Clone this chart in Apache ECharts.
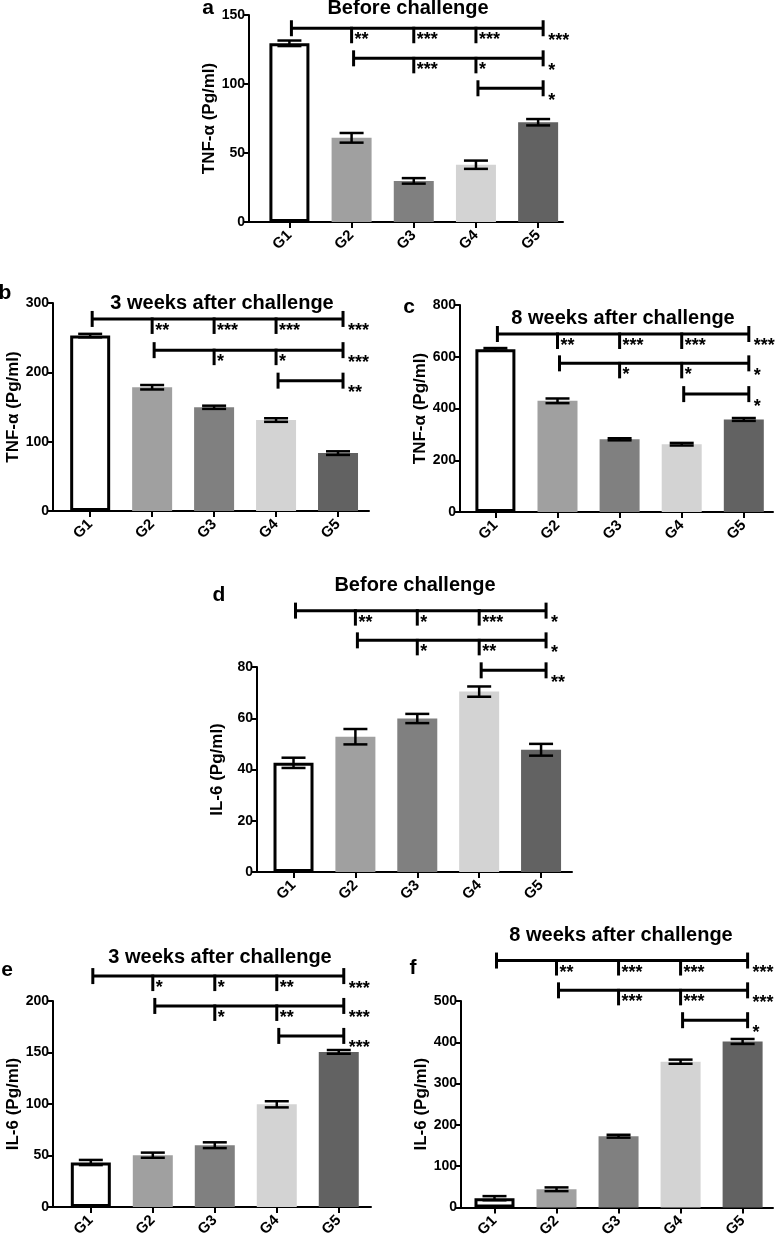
<!DOCTYPE html>
<html><head><meta charset="utf-8">
<script src="https://cdn.jsdelivr.net/npm/echarts@6/dist/echarts.min.js"></script>
<style>html,body{margin:0;padding:0;background:#fff}#c{width:775px;height:1240px}</style>
</head><body><div id="c"></div>
<script>
const categories = ['G1', 'G2', 'G3', 'G4', 'G5'];

// a: TNF-α, before challenge
const tnfBeforeMean = [129.5, 61, 29.8, 41.5, 72.3];
const tnfBeforeErr = [2, 3.5, 2, 3, 2.3];
const tnfBeforeBrackets = [[0, 140.4, ['**', '***', '***', '***']], [1, 118.6, ['***', '*', '*']], [3, 96.9, ['*']]];
const tnfBeforeTicks = [0, 50, 100, 150];

// b: TNF-α, 3 weeks after challenge
const tnf3wMean = [253, 178.5, 149.6, 131.2, 83.5];
const tnf3wErr = [2.5, 3.2, 2.3, 2.6, 2.6];
const tnf3wBrackets = [[0, 277, ['**', '***', '***', '***']], [1, 232, ['*', '*', '***']], [3, 188, ['**']]];
const tnf3wTicks = [0, 100, 200, 300];

// c: TNF-α, 8 weeks after challenge
const tnf8wMean = [628.6, 429.7, 281, 262, 357.7];
const tnf8wErr = [5, 9, 4, 5, 5.5];
const tnf8wBrackets = [[0, 688, ['**', '***', '***', '***']], [1, 574.5, ['*', '*', '*']], [3, 455.6, ['*']]];
const tnf8wTicks = [0, 200, 400, 600, 800];

// d: IL-6, before challenge
const il6BeforeMean = [42.6, 52.8, 59.9, 70.4, 47.7];
const il6BeforeErr = [2, 3, 1.8, 2, 2.3];
const il6BeforeBrackets = [[0, 102, ['**', '*', '***', '*']], [1, 90.4, ['*', '**', '*']], [3, 78.7, ['**']]];
const il6BeforeTicks = [0, 20, 40, 60, 80];

// e: IL-6, 3 weeks after challenge
const il63wMean = [43.2, 50.3, 60, 99.7, 150.6];
const il63wErr = [2.5, 2.5, 2.8, 3, 1.8];
const il63wBrackets = [[0, 224.2, ['*', '*', '**', '***']], [1, 195.2, ['*', '**', '***']], [3, 166.1, ['***']]];
const il63wTicks = [0, 50, 100, 150, 200];

// f: IL-6, 8 weeks after challenge
const il68wMean = [22.4, 44, 172.5, 353, 402];
const il68wErr = [5, 4.5, 3.5, 5, 6];
const il68wBrackets = [[0, 598, ['**', '***', '***', '***']], [1, 525.8, ['***', '***', '***']], [3, 453.5, ['*']]];
const il68wTicks = [0, 100, 200, 300, 400, 500];

// styles
const barColors = ['#ffffff', '#a0a0a0', '#808080', '#d3d3d3', '#626262'];
const FONT = 'Liberation Sans, Arial, sans-serif';

const panels = [
  {letter: 'a', title: 'Before challenge', yname: 'TNF-α (Pg/ml)', mean: tnfBeforeMean, err: tnfBeforeErr, br: tnfBeforeBrackets, ticks: tnfBeforeTicks,
   grid: {left: 249, top: 15, width: 314, height: 207}, xr: [-0.65, 4.40], titleAt: [408, 8], letterAt: [208, 8]},
  {letter: 'b', title: '3 weeks after challenge', yname: 'TNF-α (Pg/ml)', mean: tnf3wMean, err: tnf3wErr, br: tnf3wBrackets, ticks: tnf3wTicks,
   grid: {left: 53, top: 303, width: 316, height: 208}, xr: [-0.60, 4.50], titleAt: [222, 303], letterAt: [5, 293]},
  {letter: 'c', title: '8 weeks after challenge', yname: 'TNF-α (Pg/ml)', mean: tnf8wMean, err: tnf8wErr, br: tnf8wBrackets, ticks: tnf8wTicks,
   grid: {left: 460, top: 305, width: 313, height: 207}, xr: [-0.57, 4.47], titleAt: [623, 318], letterAt: [409, 307]},
  {letter: 'd', title: 'Before challenge', yname: 'IL-6 (Pg/ml)', mean: il6BeforeMean, err: il6BeforeErr, br: il6BeforeBrackets, ticks: il6BeforeTicks,
   grid: {left: 257, top: 667, width: 315, height: 205}, xr: [-0.59, 4.50], titleAt: [415, 585], letterAt: [219, 595]},
  {letter: 'e', title: '3 weeks after challenge', yname: 'IL-6 (Pg/ml)', mean: il63wMean, err: il63wErr, br: il63wBrackets, ticks: il63wTicks,
   grid: {left: 53, top: 1001, width: 318, height: 206}, xr: [-0.61, 4.52], titleAt: [220, 957], letterAt: [7, 970]},
  {letter: 'f', title: '8 weeks after challenge', yname: 'IL-6 (Pg/ml)', mean: il68wMean, err: il68wErr, br: il68wBrackets, ticks: il68wTicks,
   grid: {left: 461, top: 1001, width: 312, height: 207}, xr: [-0.54, 4.49], titleAt: [621, 935], letterAt: [413, 968]}
];

function errRender(params, api) {
  const x = api.value(0), lo = api.value(1), hi = api.value(2);
  const a = api.coord([x, lo]), b = api.coord([x, hi]);
  const w = 12, st = {stroke: '#000', lineWidth: 2.5};
  return {type: 'group', children: [
    {type: 'line', shape: {x1: a[0], y1: a[1], x2: b[0], y2: b[1]}, style: st},
    {type: 'line', shape: {x1: a[0] - w, y1: a[1], x2: a[0] + w, y2: a[1]}, style: st},
    {type: 'line', shape: {x1: b[0] - w, y1: b[1], x2: b[0] + w, y2: b[1]}, style: st}
  ]};
}

function bracketRender(br) {
  return function (params, api) {
    const s = api.value(0), lvl = api.value(1);
    const labels = br[params.dataIndex][2];
    const p0 = api.coord([s, lvl]), p1 = api.coord([categories.length - 1, lvl]);
    const y = p0[1], x0 = p0[0] + 2, x1 = p1[0] + 5;
    const st = {stroke: '#000', lineWidth: 3};
    const txt = (t, x, yy) => ({type: 'text', x: x, y: yy, style: {text: t, fill: '#000', font: 'bold 18px ' + FONT,
      align: 'left', verticalAlign: 'middle', textAlign: 'left', textVerticalAlign: 'middle'}});
    const ch = [
      {type: 'line', shape: {x1: x0, y1: y, x2: x1, y2: y}, style: st},
      {type: 'line', shape: {x1: x0, y1: y - 8, x2: x0, y2: y + 8}, style: st},
      {type: 'line', shape: {x1: x1, y1: y - 8, x2: x1, y2: y + 8}, style: st}
    ];
    let k = 0;
    for (let i = s + 1; i < categories.length - 1; i++) {
      const px = api.coord([i, lvl])[0];
      ch.push({type: 'line', shape: {x1: px, y1: y - 1.5, x2: px, y2: y + 15}, style: st});
      ch.push(txt(labels[k++], px + 3, y + 12));
    }
    ch.push(txt(labels[k], x1 + 5, y + 12.5));
    return {type: 'group', children: ch};
  };
}

const grid = [], xAxis = [], yAxis = [], series = [], graphic = [];
panels.forEach((p, k) => {
  grid.push(Object.assign({containLabel: false}, p.grid));
  xAxis.push({type: 'value', gridIndex: k, min: p.xr[0], max: p.xr[1],
    axisLine: {show: true, onZero: false, lineStyle: {color: '#000', width: 2}},
    axisTick: {show: true, length: 6, lineStyle: {color: '#000', width: 2}, customValues: categories.map((c, i) => i)},
    axisLabel: {show: true, rotate: 45, margin: 11, color: '#000', fontWeight: 'bold', fontSize: 15, fontFamily: FONT,
      customValues: categories.map((c, i) => i), formatter: v => categories[Math.round(v)]},
    splitLine: {show: false}});
  const ymax = p.ticks[p.ticks.length - 1];
  yAxis.push({type: 'value', gridIndex: k, min: 0, max: ymax, interval: p.ticks[1] - p.ticks[0],
    name: p.yname, nameLocation: 'middle', nameGap: 31, nameRotate: 90,
    nameTextStyle: {color: '#000', fontWeight: 'bold', fontSize: 17, fontFamily: FONT},
    axisLine: {show: true, onZero: false, lineStyle: {color: '#000', width: 2}},
    axisTick: {show: true, length: 6, lineStyle: {color: '#000', width: 2}},
    axisLabel: {color: '#000', fontWeight: 'bold', fontSize: 14, fontFamily: FONT, margin: 4},
    splitLine: {show: false}});
  series.push({type: 'bar', xAxisIndex: k, yAxisIndex: k, barWidth: 40, z: 2,
    data: p.mean.map((m, i) => ({value: [i, m], itemStyle: i === 0 ? {color: '#fff', borderColor: '#000', borderWidth: 3} : {color: barColors[i]}}))});
  series.push({type: 'custom', xAxisIndex: k, yAxisIndex: k, z: 5, renderItem: errRender, clip: false,
    encode: {x: 0, y: [1, 2]}, data: p.mean.map((m, i) => [i, m - p.err[i], m + p.err[i]])});
  series.push({type: 'custom', xAxisIndex: k, yAxisIndex: k, z: 6, renderItem: bracketRender(p.br), clip: false,
    encode: {x: 0, y: 1}, data: p.br.map(b => [b[0], b[1]])});
  graphic.push({type: 'text', x: p.titleAt[0], y: p.titleAt[1], style: {text: p.title, fill: '#000', font: 'bold 20px ' + FONT,
    align: 'center', verticalAlign: 'middle', textAlign: 'center', textVerticalAlign: 'middle'}});
  graphic.push({type: 'text', x: p.letterAt[0], y: p.letterAt[1], style: {text: p.letter, fill: '#000', font: 'bold 21px ' + FONT,
    align: 'center', verticalAlign: 'middle', textAlign: 'center', textVerticalAlign: 'middle'}});
});

const chart = echarts.init(document.getElementById('c'), null, {renderer: 'canvas'});
chart.setOption({animation: false, backgroundColor: '#fff', textStyle: {fontFamily: FONT},
  grid, xAxis, yAxis, series, graphic});
</script></body></html>
